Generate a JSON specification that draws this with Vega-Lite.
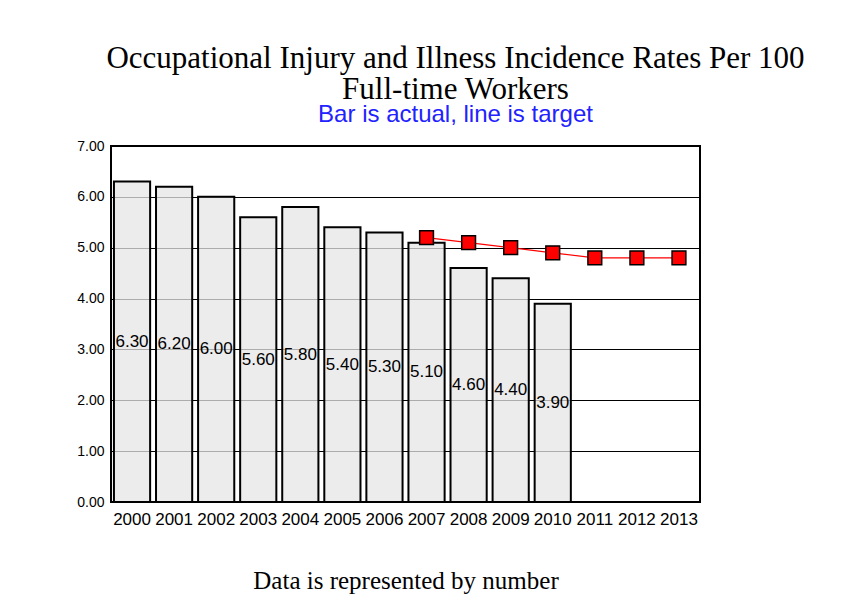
{
  "$schema": "https://vega.github.io/schema/vega-lite/v6.json",
  "width": 589,
  "height": 356,
  "padding": {"left": 76, "top": 43, "right": 5, "bottom": 5},
  "background": "white",
  "title": {
    "text": ["Occupational Injury and Illness Incidence Rates Per 100", "Full-time Workers"],
    "subtitle": "Bar is actual, line is target",
    "font": "Liberation Serif",
    "fontSize": 31,
    "fontWeight": "normal",
    "color": "black",
    "lineHeight": 31,
    "subtitleFont": "Liberation Sans",
    "subtitleFontSize": 24,
    "subtitleColor": "#2222ff",
    "subtitlePadding": -3,
    "anchor": "middle",
    "dx": 50,
    "offset": 11
  },
  "data": {
    "values": [
      {"year": "2000", "actual": 6.3, "target": null},
      {"year": "2001", "actual": 6.2, "target": null},
      {"year": "2002", "actual": 6.0, "target": null},
      {"year": "2003", "actual": 5.6, "target": null},
      {"year": "2004", "actual": 5.8, "target": null},
      {"year": "2005", "actual": 5.4, "target": null},
      {"year": "2006", "actual": 5.3, "target": null},
      {"year": "2007", "actual": 5.1, "target": 5.2},
      {"year": "2008", "actual": 4.6, "target": 5.1},
      {"year": "2009", "actual": 4.4, "target": 5.0},
      {"year": "2010", "actual": 3.9, "target": 4.9},
      {"year": "2011", "actual": null, "target": 4.8},
      {"year": "2012", "actual": null, "target": 4.8},
      {"year": "2013", "actual": null, "target": 4.8}
    ]
  },
  "encoding": {
    "x": {
      "field": "year",
      "type": "ordinal",
      "scale": {"paddingInner": 0.14, "paddingOuter": 0.07},
      "axis": {
        "labelAngle": 0,
        "ticks": false,
        "domain": false,
        "labelFont": "Liberation Sans",
        "labelFontSize": 17,
        "labelColor": "black",
        "labelPadding": 9,
        "title": "Data is represented by number",
        "titleFont": "Liberation Serif",
        "titleFontSize": 25,
        "titleFontWeight": "normal",
        "titleColor": "black",
        "titlePadding": 41
      }
    }
  },
  "layer": [
    {
      "mark": {"type": "bar", "fill": "#e6e6e6", "fillOpacity": 0.75, "stroke": "black", "strokeWidth": 2},
      "encoding": {
        "y": {
          "field": "actual",
          "type": "quantitative",
          "scale": {"domain": [0, 7], "nice": false},
          "axis": {
            "title": null,
            "values": [0, 1, 2, 3, 4, 5, 6, 7],
            "format": ".2f",
            "ticks": false,
            "domain": false,
            "grid": true,
            "gridColor": "black",
            "gridOpacity": 1,
            "gridWidth": 1,
            "labelFont": "Liberation Sans",
            "labelFontSize": 14,
            "labelColor": "black",
            "labelPadding": 7
          }
        }
      }
    },
    {
      "transform": [{"filter": "datum.actual != null"}, {"calculate": "datum.actual / 2", "as": "mid"}],
      "mark": {"type": "text", "font": "Liberation Sans", "fontSize": 17, "color": "black", "baseline": "middle"},
      "encoding": {
        "y": {"field": "mid", "type": "quantitative"},
        "text": {"field": "actual", "type": "quantitative", "format": ".2f"}
      }
    },
    {
      "transform": [{"filter": "datum.target != null"}],
      "mark": {"type": "line", "color": "#ff0000", "strokeWidth": 1.2},
      "encoding": {"y": {"field": "target", "type": "quantitative"}}
    },
    {
      "transform": [{"filter": "datum.target != null"}],
      "mark": {"type": "point", "shape": "square", "filled": true, "fill": "#ff0000", "stroke": "black", "strokeWidth": 1.5, "size": 190, "opacity": 1},
      "encoding": {"y": {"field": "target", "type": "quantitative"}}
    }
  ],
  "config": {
    "view": {"stroke": "black", "strokeWidth": 2},
    "axisY": {"gridColor": "black"}
  }
}
